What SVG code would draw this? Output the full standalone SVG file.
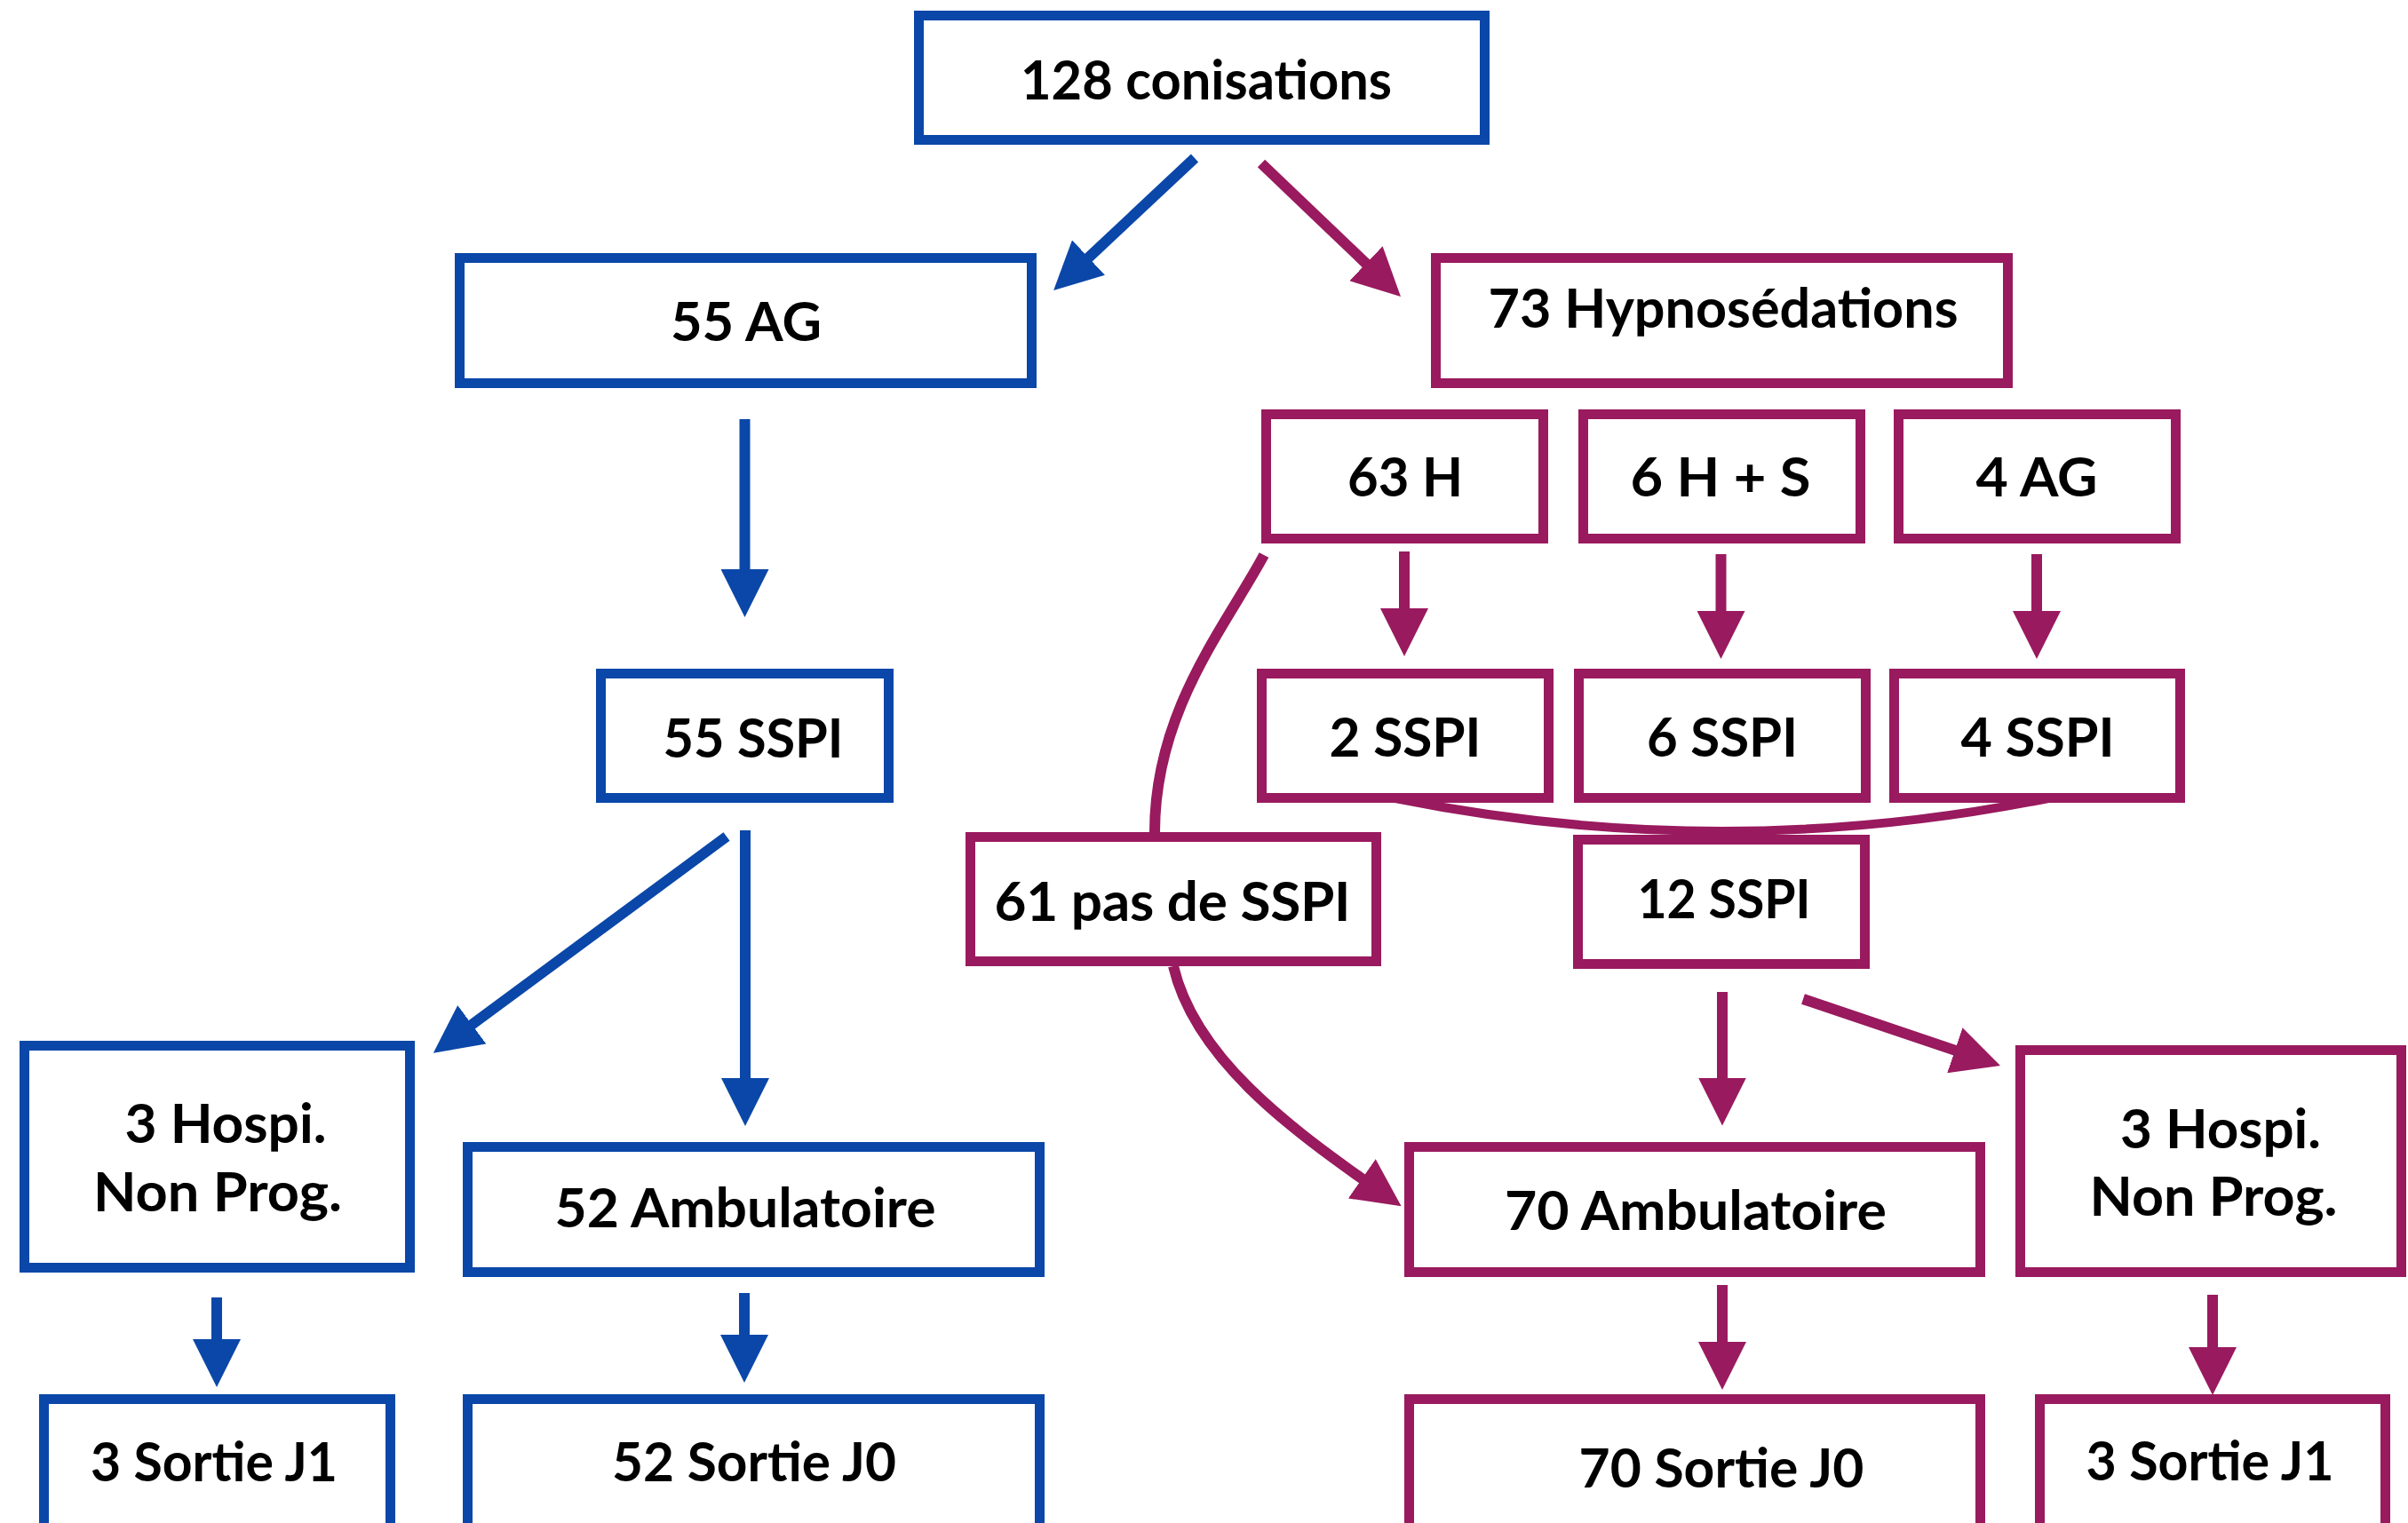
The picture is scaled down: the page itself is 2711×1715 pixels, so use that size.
<svg xmlns="http://www.w3.org/2000/svg" width="2711" height="1715" viewBox="0 0 2711 1715">
<style>
.b{fill:#fff;stroke:#0A47A8;stroke-width:11}
.m{fill:#fff;stroke:#991A5E;stroke-width:11}
.t{font-family:"Lato","Liberation Sans",sans-serif;font-weight:700;font-size:62px;fill:#000;text-anchor:middle}
.cb{fill:none;stroke:#0A47A8;stroke-width:12}
.cm{fill:none;stroke:#991A5E;stroke-width:12}
</style>
<defs>
<marker id="ab" markerUnits="userSpaceOnUse" markerWidth="54" markerHeight="54" refX="24" refY="27" orient="auto"><path d="M0,0 L54,27 L0,54 z" fill="#0A47A8"/></marker>
<marker id="am" markerUnits="userSpaceOnUse" markerWidth="54" markerHeight="54" refX="24" refY="27" orient="auto"><path d="M0,0 L54,27 L0,54 z" fill="#991A5E"/></marker>
</defs>
<rect width="2711" height="1715" fill="#fff"/>
<g id="connectors">
<path class="cb" d="M1345,178 L1208,306.5" marker-end="url(#ab)"/>
<path class="cm" d="M1420,184 L1555.3,313.3" marker-end="url(#am)"/>
<path class="cb" d="M838.5,472 L838.5,665" marker-end="url(#ab)"/>
<path class="cb" d="M818,942 L512,1168" marker-end="url(#ab)"/>
<path class="cb" d="M839,935 L839,1238" marker-end="url(#ab)"/>
<path class="cb" d="M244,1461 L244,1532" marker-end="url(#ab)"/>
<path class="cb" d="M838,1456 L838,1527" marker-end="url(#ab)"/>
<path class="cm" d="M1581,621 L1581,709" marker-end="url(#am)"/>
<path class="cm" d="M1937.5,624 L1937.5,712" marker-end="url(#am)"/>
<path class="cm" d="M2293,624 L2293,712" marker-end="url(#am)"/>
<path class="cm" d="M1939,1117 L1939,1237.5" marker-end="url(#am)"/>
<path class="cm" d="M2030,1125 L2223.6,1190.4" marker-end="url(#am)"/>
<path class="cm" d="M1939,1447 L1939,1535" marker-end="url(#am)"/>
<path class="cm" d="M2491,1458 L2491,1541" marker-end="url(#am)"/>
<path class="cm" style="stroke-width:10" d="M1571,899 Q1938,973 2306,899"/>
<path class="cm" d="M1423,625 C1380,705 1300,800 1300,937"/>
<path class="cm" d="M1321,1088 C1345,1190 1448,1268 1553,1341" marker-end="url(#am)"/>
</g>
<g id="n128"><rect class="b" x="1034.5" y="17.5" width="637" height="140"/><text class="t" x="1358" y="112" textLength="418" lengthAdjust="spacingAndGlyphs">128 conisations</text></g>
<g id="n55ag"><rect class="b" x="517.5" y="290.5" width="644" height="141"/><text class="t" x="840" y="384" textLength="170" lengthAdjust="spacingAndGlyphs">55 AG</text></g>
<g id="n73"><rect class="m" x="1616.5" y="290.5" width="644" height="141"/><text class="t" x="1940" y="369" textLength="529" lengthAdjust="spacingAndGlyphs">73 Hypnosédations</text></g>
<g id="n63h"><rect class="m" x="1425.5" y="466.5" width="312" height="140"/><text class="t" x="1582" y="559" textLength="130" lengthAdjust="spacingAndGlyphs">63 H</text></g>
<g id="n6hs"><rect class="m" x="1782.5" y="466.5" width="312" height="140"/><text class="t" x="1937" y="559" textLength="203" lengthAdjust="spacingAndGlyphs">6 H + S</text></g>
<g id="n4ag"><rect class="m" x="2137.5" y="466.5" width="312" height="140"/><text class="t" x="2293" y="559" textLength="137" lengthAdjust="spacingAndGlyphs">4 AG</text></g>
<g id="n55sspi"><rect class="b" x="676.5" y="758.5" width="324" height="140"/><text class="t" x="848" y="853" textLength="203" lengthAdjust="spacingAndGlyphs">55 SSPI</text></g>
<g id="n2sspi"><rect class="m" x="1420.5" y="758.5" width="323" height="140"/><text class="t" x="1582" y="852" textLength="171" lengthAdjust="spacingAndGlyphs">2 SSPI</text></g>
<g id="n6sspi"><rect class="m" x="1777.5" y="758.5" width="323" height="140"/><text class="t" x="1939" y="852" textLength="170" lengthAdjust="spacingAndGlyphs">6 SSPI</text></g>
<g id="n4sspi"><rect class="m" x="2132.5" y="758.5" width="322" height="140"/><text class="t" x="2294" y="852" textLength="173" lengthAdjust="spacingAndGlyphs">4 SSPI</text></g>
<g id="n61"><rect class="m" x="1092.5" y="942.5" width="457" height="140"/><text class="t" x="1320" y="1037" textLength="401" lengthAdjust="spacing">61 pas de SSPI</text></g>
<g id="n12sspi"><rect class="m" x="1776.5" y="945.5" width="323" height="140"/><text class="t" x="1941" y="1034" textLength="195" lengthAdjust="spacingAndGlyphs">12 SSPI</text></g>
<g id="nhospib"><rect class="b" x="27.5" y="1177.5" width="434" height="250"/><text class="t" x="254" y="1287" textLength="227" lengthAdjust="spacingAndGlyphs">3 Hospi.</text><text class="t" x="245" y="1364" textLength="280" lengthAdjust="spacingAndGlyphs">Non Prog.</text></g>
<g id="n52amb"><rect class="b" x="526.5" y="1291.5" width="644" height="141"/><text class="t" x="839" y="1382" textLength="429" lengthAdjust="spacingAndGlyphs">52 Ambulatoire</text></g>
<g id="n70amb"><rect class="m" x="1586.5" y="1291.5" width="643" height="141"/><text class="t" x="1909" y="1385" textLength="430" lengthAdjust="spacingAndGlyphs">70 Ambulatoire</text></g>
<g id="nhospim"><rect class="m" x="2274.5" y="1182.5" width="429" height="250"/><text class="t" x="2500" y="1293" textLength="226" lengthAdjust="spacingAndGlyphs">3 Hospi.</text><text class="t" x="2492" y="1369" textLength="279" lengthAdjust="spacingAndGlyphs">Non Prog.</text></g>
<g id="nj1b"><rect class="b" x="49.5" y="1575.5" width="390" height="170"/><text class="t" x="241" y="1668" textLength="278" lengthAdjust="spacingAndGlyphs">3 Sortie J1</text></g>
<g id="nj0b"><rect class="b" x="526.5" y="1575.5" width="644" height="170"/><text class="t" x="849" y="1668" textLength="320" lengthAdjust="spacingAndGlyphs">52 Sortie J0</text></g>
<g id="nj0m"><rect class="m" x="1586.5" y="1575.5" width="643" height="170"/><text class="t" x="1938" y="1675" textLength="321" lengthAdjust="spacingAndGlyphs">70 Sortie J0</text></g>
<g id="nj1m"><rect class="m" x="2296.5" y="1575.5" width="389" height="170"/><text class="t" x="2488" y="1667" textLength="279" lengthAdjust="spacingAndGlyphs">3 Sortie J1</text></g>
</svg>
